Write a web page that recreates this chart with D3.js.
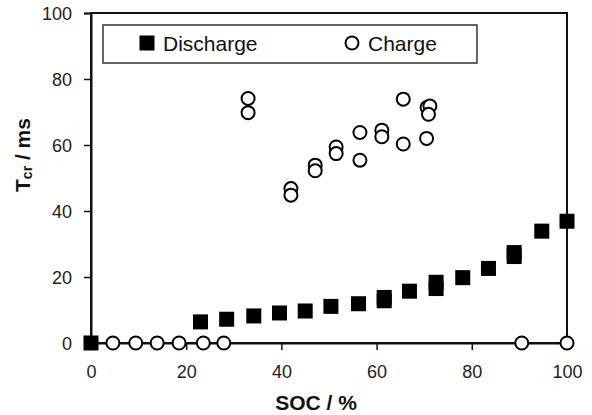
<!DOCTYPE html>
<html>
<head>
<meta charset="utf-8">
<script src="https://cdn.jsdelivr.net/npm/d3@7"></script>
<style>
  body { margin: 0; background: #fff; }
  svg { display: block; font-family: "Liberation Sans", Arial, sans-serif; }
</style>
</head>
<body>
<div id="chart"></div>
<script>

// series data (SOC %, Tcr ms)
const dischargeSoc = [0, 23.0, 28.5, 34.2, 39.6, 45.0, 50.4, 56.2, 61.6, 61.6, 66.9, 72.5, 72.5, 78.1, 83.5, 88.9, 88.9, 94.7, 100];
const dischargeT   = [0, 6.4, 7.2, 8.2, 9.1, 9.7, 11.1, 11.9, 12.8, 13.8, 15.7, 16.5, 18.4, 19.8, 22.6, 26.2, 27.4, 33.9, 36.9];

const chargeSoc = [4.6, 9.4, 13.9, 18.5, 23.6, 27.9, 90.5, 100,
                   33.0, 33.0, 42.0, 42.0, 47.1, 47.1, 51.5, 51.5, 56.5, 56.5,
                   61.1, 61.1, 65.6, 65.6, 70.6, 71.2, 70.9, 70.5];
const chargeT   = [0, 0, 0, 0, 0, 0, 0, 0,
                   74.1, 69.8, 46.8, 44.8, 53.9, 52.2, 59.4, 57.4, 63.8, 55.4,
                   64.5, 62.5, 73.9, 60.3, 71.4, 71.8, 69.3, 62.0];

const seriesNames = ["Discharge", "Charge"];
const xTicks = [0, 20, 40, 60, 80, 100];
const yTicks = [0, 20, 40, 60, 80, 100];

const width = 592, height = 415;
const margin = {top: 13, right: 25, bottom: 72, left: 91};

const svg = d3.select("#chart").append("svg")
  .attr("width", width)
  .attr("height", height);

const x = d3.scaleLinear().domain([0, 100]).range([margin.left, width - margin.right]);
const y = d3.scaleLinear().domain([0, 100]).range([height - margin.bottom, margin.top]);

// frame
svg.append("rect")
  .attr("x", x(0)).attr("y", y(100))
  .attr("width", x(100) - x(0)).attr("height", y(0) - y(100))
  .attr("fill", "none").attr("stroke", "#111").attr("stroke-width", 2);

// axes
const xAxis = svg.append("g")
  .attr("transform", `translate(0,${y(0)})`)
  .call(d3.axisBottom(x).tickValues(xTicks).tickSize(7).tickPadding(15));
const yAxis = svg.append("g")
  .attr("transform", `translate(${x(0)},0)`)
  .call(d3.axisLeft(y).tickValues(yTicks).tickSize(7).tickPadding(12));

[xAxis, yAxis].forEach(g => {
  g.select(".domain").attr("stroke", "#111").attr("stroke-width", 2);
  g.selectAll(".tick line").attr("stroke", "#111").attr("stroke-width", 1.5);
  g.selectAll(".tick text")
    .attr("fill", "#222")
    .style("font-size", "18px")
    .style("font-family", "Liberation Sans, Arial, sans-serif");
});
yAxis.selectAll(".tick text").attr("dy", "0.35em");

// axis titles
svg.append("text")
  .attr("x", 316).attr("y", 410)
  .attr("text-anchor", "middle")
  .style("font-size", "21px").style("font-weight", "bold")
  .attr("fill", "#111")
  .text("SOC / %");

const yTitle = svg.append("text")
  .attr("transform", `translate(30,155) rotate(-90)`)
  .attr("text-anchor", "middle")
  .style("font-size", "21px").style("font-weight", "bold")
  .attr("fill", "#111");
yTitle.append("tspan").text("T");
yTitle.append("tspan").attr("dy", 2).style("font-size", "14px").text("cr");
yTitle.append("tspan").attr("dy", -2).text(" / ms");

// data marks
const sq = 15;
svg.append("g").selectAll("rect")
  .data(d3.zip(dischargeSoc, dischargeT))
  .join("rect")
  .attr("x", d => x(d[0]) - sq / 2)
  .attr("y", d => y(d[1]) - sq / 2)
  .attr("width", sq).attr("height", sq)
  .attr("fill", "#000");

svg.append("g").selectAll("circle")
  .data(d3.zip(chargeSoc, chargeT))
  .join("circle")
  .attr("cx", d => x(d[0]))
  .attr("cy", d => y(d[1]))
  .attr("r", 6.5)
  .attr("fill", "#fff")
  .attr("stroke", "#000")
  .attr("stroke-width", 2);

// legend
const legend = svg.append("g");
legend.append("rect")
  .attr("x", 103).attr("y", 25)
  .attr("width", 374).attr("height", 38)
  .attr("fill", "#fff").attr("stroke", "#333").attr("stroke-width", 1.5);

const legendItems = [
  {name: seriesNames[0], mx: 147, tx: 163},
  {name: seriesNames[1], mx: 352, tx: 368}
];
legendItems.forEach((it, i) => {
  if (i === 0) {
    legend.append("rect")
      .attr("x", it.mx - 7.5).attr("y", 43 - 7.5)
      .attr("width", 15).attr("height", 15).attr("fill", "#000");
  } else {
    legend.append("circle")
      .attr("cx", it.mx).attr("cy", 43).attr("r", 6.5)
      .attr("fill", "#fff").attr("stroke", "#000").attr("stroke-width", 2);
  }
  legend.append("text")
    .attr("x", it.tx).attr("y", 51)
    .style("font-size", "21px")
    .attr("fill", "#111")
    .text(it.name);
});
</script>
</body>
</html>
